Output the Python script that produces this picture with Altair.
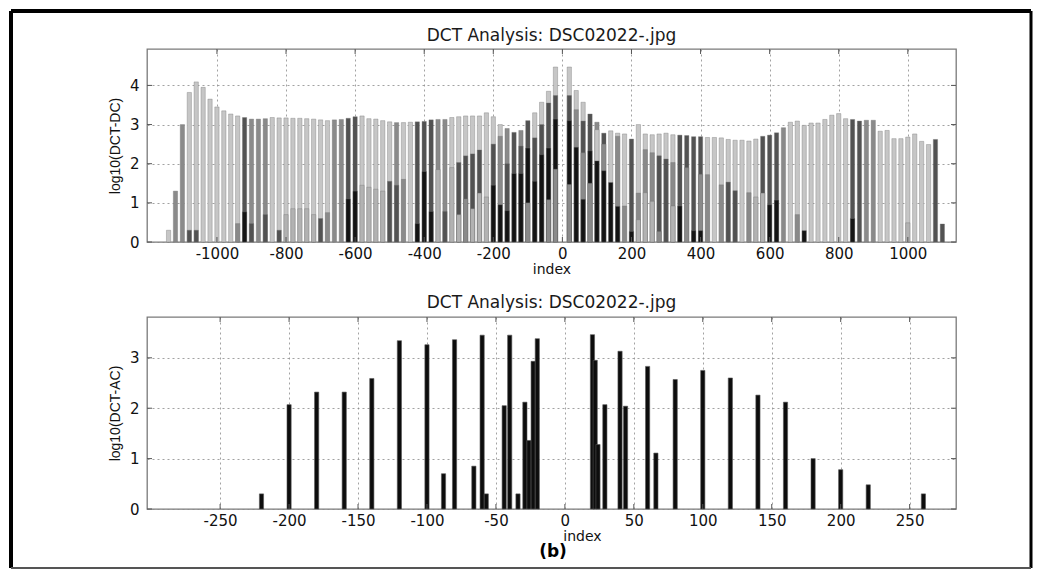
import altair as alt
import pandas as pd

# ---------------- top panel: log10 of DC coefficient histogram ----------------
# light grey series
light_idx = [-1140, -1080, -1060, -1040, -1020, -1000, -980, -960, -940, -840, -820, -800, -780, -760,
             -740, -720, -700, -680, -580, -560, -540, -520, -500, -460, -440, -320, -300, -280, -260,
             -240, -220, -200, -180, -80, -60, -40, -20, 20, 40, 60, 100, 140, 160, 180, 220, 240, 260,
             280, 300, 320, 420, 440, 460, 480, 500, 520, 540, 560, 660, 680, 700, 720, 740, 760, 780,
             800, 820, 920, 940, 960, 980, 1000, 1020, 1040, 1060]
light_val = [0.3, 3.82, 4.09, 3.95, 3.65, 3.45, 3.35, 3.27, 3.22, 3.18, 3.17, 3.17, 3.16, 3.16,
             3.15, 3.14, 3.12, 3.1, 3.22, 3.15, 3.14, 3.1, 3.07, 3.05, 3.06, 3.18, 3.2, 3.22, 3.22,
             3.22, 3.3, 3.2, 3.0, 3.3, 3.57, 3.85, 4.47, 4.47, 3.87, 3.57, 2.87, 2.84, 2.78, 2.76, 3.0, 2.76, 2.74,
             2.76, 2.78, 2.74, 2.67, 2.67, 2.66, 2.62, 2.6, 2.6, 2.58, 2.63, 3.06, 3.09, 2.98, 3.04, 3.04, 3.13, 3.24,
             3.28, 3.15, 2.83, 2.85, 2.64, 2.64, 2.68, 2.76, 2.57, 2.49]

# second light grey series
light2_idx = [-800, -780, -760, -740, -720, -580, -560, -540, -520, -360, -320, -300, -260, -240, -220,
              220, 240, 260, 320, 560, 580, 1000]
light2_val = [0.7, 0.85, 0.85, 0.85, 0.7, 1.45, 1.4, 1.35, 1.3, 1.85, 1.9, 0.7, 0.85, 1.25, 1.15,
              0.57, 1.26, 1.04, 0.92, 1.15, 1.25, 0.49]

# mid grey series
mid_idx = [-1120, -1100, -940, -900, -880, -860, -680, -660, -640, -480, -460, -360, -340, -280, -180,
           -160, -120, -100, -40, -20, 20, 40, 60, 80, 100, 120, 160, 180, 220, 240, 260, 280, 320, 360,
           400, 420, 460, 540, 640, 680, 880, 900]
mid_val = [1.3, 3.0, 0.47, 3.14, 3.14, 3.15, 0.75, 3.12, 3.13, 3.05, 1.6, 3.13, 3.13, 1.1, 2.7,
           2.9, 2.85, 1.0, 1.08, 1.86, 1.47, 3.38, 2.28, 1.5, 3.06, 2.5, 2.7, 0.92, 1.25, 2.36, 2.28, 0.27, 2.03, 1.9,
           1.73, 1.72, 1.46, 1.26, 2.92, 0.7, 3.11, 3.11]

# dark grey series
dark_idx = [-1080, -1060, -920, -900, -860, -820, -700, -620, -600, -500, -480, -420, -400, -380, -340,
            -300, -280, -260, -240, -200, -160, -140, -120, -100, -80, -60, -40, -20, 20, 60, 80, 120,
            200, 280, 300, 340, 360, 380, 400, 480, 500, 580, 600, 620, 840, 860, 1080, 1100]
dark_val = [0.3, 0.3, 3.18, 0.47, 0.7, 0.3, 0.6, 3.16, 3.2, 1.55, 1.45, 3.07, 3.08, 3.12, 0.78,
            2.03, 2.2, 2.25, 2.35, 2.5, 2.0, 2.8, 2.45, 3.1, 2.66, 3.0, 3.55, 3.74, 3.74, 3.09, 3.27, 2.78,
            2.63, 2.2, 2.12, 2.73, 2.72, 2.69, 2.69, 1.53, 1.31, 2.7, 2.73, 2.79, 3.13, 3.09, 2.62, 0.46]

# black series
black_idx = [-920, -620, -600, -420, -400, -380, -200, -180, -160, -140, -120, -100, -80, -60, -40,
             -20, 20, 40, 60, 80, 100, 120, 140, 160, 200, 340, 380, 400, 600, 620, 700, 840]
black_val = [0.77, 1.1, 1.3, 0.47, 1.8, 0.78, 1.45, 0.95, 0.8, 1.75, 1.75, 2.4, 1.55, 2.23, 2.4,
             3.14, 3.1, 2.42, 1.09, 2.33, 2.07, 1.82, 1.52, 0.91, 0.27, 0.92, 0.29, 0.29, 0.95, 1.07, 0.29, 0.6]

# ---------------- bottom panel: log10 of AC coefficient histogram ----------------
ac_idx = [-220, -200, -180, -160, -140, -120, -100, -88, -80, -66, -60, -57, -44, -40, -34, -29, -26,
          -23, -20, 20, 22, 24, 29, 40, 44, 60, 66, 80, 100, 120, 140, 160, 180, 200, 220, 260]
ac_val = [0.3, 2.07, 2.32, 2.32, 2.59, 3.34, 3.26, 0.7, 3.36, 0.85, 3.45, 0.3, 2.05, 3.45, 0.3, 2.12, 1.36,
          2.93, 3.38, 3.46, 2.95, 1.28, 2.07, 3.13, 2.04, 2.83, 1.11, 2.57, 2.75, 2.6, 2.26, 2.12, 1.0, 0.78, 0.48, 0.3]

# ---------------- axes / labels ----------------
dc_xticks = [-1000, -800, -600, -400, -200, 0, 200, 400, 600, 800, 1000]
dc_yticks = [0, 1, 2, 3, 4]
ac_xticks = [-250, -200, -150, -100, -50, 0, 50, 100, 150, 200, 250]
ac_yticks = [0, 1, 2, 3]
panel_title = "DCT Analysis: DSC02022-.jpg"
panel_label = "(b)"
tones = ["L", "L2", "M", "D", "K"]
tone_colors = ["#c6c6c6", "#b2b2b2", "#8a8a8a", "#525252", "#141414"]

series = [("L", light_idx, light_val), ("L2", light2_idx, light2_val), ("M", mid_idx, mid_val),
          ("D", dark_idx, dark_val), ("K", black_idx, black_val)]
dc_df = pd.concat(
    [pd.DataFrame({"index": i, "logc": v, "tone": t}) for t, i, v in series], ignore_index=True
)
# draw taller bars first so that shorter ones stay visible in front
dc_df = dc_df.sort_values("logc", ascending=False).reset_index(drop=True)
ac_df = pd.DataFrame({"index": ac_idx, "logc": ac_val})

one = alt.Data(values=[{"k": 0}])
lbl = "'' + datum.value"

W, H1, H2 = 809, 193, 192
TICK = "#555555"


def title_mark(dy):
    return alt.Chart(one).mark_text(
        text=panel_title, font="DejaVu Sans", fontSize=17, color="#1a1a1a", baseline="middle", align="center"
    ).encode(x=alt.value(W / 2), y=alt.value(dy))


def inner_ticks(xticks, yticks, xscale, yscale, xaxis, yaxis, h):
    """MATLAB-style tick marks drawn inside the axes box on all four sides."""
    xt = pd.DataFrame({"index": xticks})
    yt = pd.DataFrame({"logc": yticks})
    xenc = alt.X("index:Q", scale=xscale, axis=xaxis)
    yenc = alt.Y("logc:Q", scale=yscale, axis=yaxis)
    return [
        alt.Chart(xt).mark_rule(color=TICK, strokeWidth=1).encode(x=xenc, y=alt.value(h), y2=alt.value(h - 5)),
        alt.Chart(xt).mark_rule(color=TICK, strokeWidth=1).encode(x=xenc, y=alt.value(0), y2=alt.value(5)),
        alt.Chart(yt).mark_rule(color=TICK, strokeWidth=1).encode(y=yenc, x=alt.value(0), x2=alt.value(5)),
        alt.Chart(yt).mark_rule(color=TICK, strokeWidth=1).encode(y=yenc, x=alt.value(W), x2=alt.value(W - 5)),
    ]


dc_xscale = alt.Scale(domain=[-1188, 1125], nice=False, zero=False)
dc_yscale = alt.Scale(domain=[0, 4.93], nice=False)
dc_xaxis = alt.Axis(values=dc_xticks, title="index", labelExpr=lbl)
dc_yaxis = alt.Axis(values=dc_yticks, title="log10(DCT-DC)")

top_bars = alt.Chart(dc_df).mark_bar(size=4.3, stroke="#707070", strokeWidth=0.5, strokeOpacity=0.7).encode(
    x=alt.X("index:Q", scale=dc_xscale, axis=dc_xaxis),
    y=alt.Y("logc:Q", stack=None, scale=dc_yscale, axis=dc_yaxis),
    color=alt.Color("tone:N", scale=alt.Scale(domain=tones, range=tone_colors), legend=None),
)

# outer black frame of the figure
fx0, fx1, fy0, fy1 = -136, 884, -38, 519
frame = [
    alt.Chart(one).mark_rule(color="black", strokeWidth=4).encode(x=alt.value(fx0), x2=alt.value(fx1), y=alt.value(fy0)),
    alt.Chart(one).mark_rule(color="black", strokeWidth=4).encode(x=alt.value(fx0), y=alt.value(fy0), y2=alt.value(fy1)),
    alt.Chart(one).mark_rule(color="black", strokeWidth=3).encode(x=alt.value(fx1), y=alt.value(fy0), y2=alt.value(fy1)),
    alt.Chart(one).mark_rule(color="#555555", strokeWidth=2).encode(x=alt.value(fx0), x2=alt.value(fx1), y=alt.value(fy1)),
]

top = alt.layer(
    top_bars, *inner_ticks(dc_xticks, dc_yticks, dc_xscale, dc_yscale, dc_xaxis, dc_yaxis, H1),
    title_mark(-13), *frame
).properties(width=W, height=H1)

ac_xscale = alt.Scale(domain=[-299.4, 280], nice=False, zero=False)
ac_yscale = alt.Scale(domain=[0, 3.81], nice=False)
ac_xaxis = alt.Axis(values=ac_xticks, title="index", labelExpr=lbl, titleX=435)
ac_yaxis = alt.Axis(values=ac_yticks, title="log10(DCT-AC)")

bottom_bars = alt.Chart(ac_df).mark_bar(size=4.2, color="#0d0d0d", stroke="#555555", strokeWidth=0.6).encode(
    x=alt.X("index:Q", scale=ac_xscale, axis=ac_xaxis),
    y=alt.Y("logc:Q", stack=None, scale=ac_yscale, axis=ac_yaxis),
)
b_label = alt.Chart(one).mark_text(text=panel_label, font="DejaVu Sans", fontSize=17, fontWeight="bold",
                                   color="black", baseline="middle").encode(x=alt.value(406), y=alt.value(235))

bottom = alt.layer(
    bottom_bars, *inner_ticks(ac_xticks, ac_yticks, ac_xscale, ac_yscale, ac_xaxis, ac_yaxis, H2),
    title_mark(-14), b_label
).properties(width=W, height=H2)

chart = alt.vconcat(top, bottom, spacing=75, bounds="flush", padding=0, background="white").configure_view(
    stroke="#7a7a7a", strokeWidth=1.3
).configure_axis(
    grid=True, gridColor="#8a8a8a", gridDash=[2, 3], gridWidth=0.8, gridOpacity=1,
    domain=False, ticks=False, tickSize=0,
    labelFont="DejaVu Sans", labelFontSize=15, labelColor="#111111",
    titleFont="DejaVu Sans", titleFontSize=14, titleFontWeight="normal", titleColor="#111111",
).configure_axisX(labelPadding=4, titlePadding=1).configure_axisY(
    labelPadding=8, titlePadding=7, titleFont="Liberation Sans", titleFontSize=14
)

chart.save("out.html", embed_options={"renderer": "svg", "actions": False})
